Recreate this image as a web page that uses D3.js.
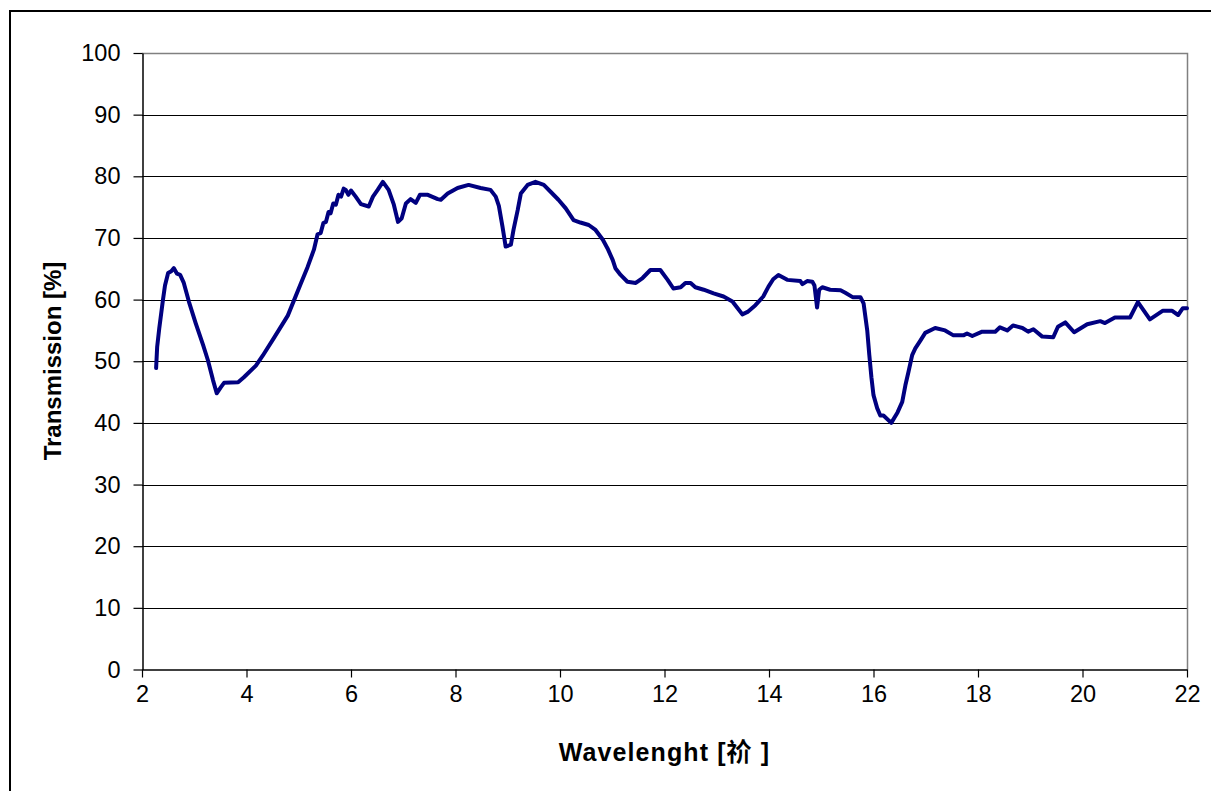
<!DOCTYPE html>
<html>
<head>
<meta charset="utf-8">
<script src="https://cdn.jsdelivr.net/npm/d3@7"></script>
<style>
  html, body { margin: 0; padding: 0; background: #fff; }
  svg { display: block; }
</style>
</head>
<body>
<svg id="chart" width="1211" height="791"></svg>
<script>
// ---- data ----
const wavelength = [
  2.27, 2.29, 2.33, 2.40, 2.44, 2.50, 2.56, 2.61, 2.67, 2.73, 2.80, 2.90, 3.03, 3.17, 3.26, 3.36, 3.43,
  3.51, 3.57, 3.84, 3.95, 4.18, 4.31, 4.52, 4.79, 5.04, 5.17, 5.29, 5.36, 5.42, 5.47, 5.52, 5.57, 5.61,
  5.66, 5.71, 5.76, 5.81, 5.86, 5.90, 5.95, 6.00, 6.09, 6.19, 6.34, 6.42, 6.51, 6.61, 6.72, 6.82,
  6.90, 6.97, 7.05, 7.14, 7.24, 7.32, 7.47, 7.66, 7.72, 7.85, 8.04, 8.25, 8.48, 8.67, 8.77, 8.83,
  8.90, 8.96, 9.06, 9.11, 9.19, 9.25, 9.38, 9.53, 9.69, 9.82, 9.97, 10.11, 10.26, 10.39, 10.55,
  10.68, 10.82, 10.91, 11.01, 11.06, 11.16, 11.29, 11.45, 11.58, 11.73, 11.92, 12.06, 12.17, 12.31,
  12.40, 12.50, 12.59, 12.75, 12.94, 13.13, 13.30, 13.40, 13.49, 13.59, 13.74, 13.89, 13.99, 14.08,
  14.18, 14.35, 14.60, 14.64, 14.73, 14.83, 14.87, 14.92, 14.96, 15.02, 15.17, 15.37, 15.46, 15.60,
  15.75, 15.81, 15.88, 15.92, 15.96, 16.00, 16.07, 16.13, 16.19, 16.34, 16.46, 16.55, 16.61, 16.67,
  16.74, 16.80, 16.90, 16.99, 17.18, 17.37, 17.53, 17.72, 17.79, 17.89, 18.08, 18.33, 18.42, 18.56,
  18.67, 18.85, 18.96, 19.06, 19.23, 19.44, 19.53, 19.67, 19.84, 20.09, 20.34, 20.43, 20.62, 20.91,
  21.06, 21.29, 21.54, 21.71, 21.83, 21.92, 22.00
];
const transmission = [
  48.9, 52.3, 55.3, 59.9, 62.3, 64.3, 64.6, 65.1, 64.2, 64.0, 62.7, 59.6, 56.1, 52.6, 50.2, 46.9, 44.8,
  45.8, 46.5, 46.6, 47.4, 49.3, 50.9, 53.7, 57.4, 62.6, 65.3, 68.1, 70.6, 70.8, 72.4, 72.6, 74.2, 74.0,
  75.6, 75.4, 77.0, 76.7, 78.0, 77.8, 77.0, 77.7, 76.7, 75.5, 75.1, 76.7, 77.8, 79.1, 77.8, 75.4,
  72.6, 73.2, 75.6, 76.3, 75.7, 77.0, 77.0, 76.3, 76.2, 77.2, 78.1, 78.6, 78.1, 77.8, 76.7, 75.2,
  71.8, 68.6, 68.9, 71.3, 74.5, 77.2, 78.6, 79.1, 78.6, 77.5, 76.2, 74.8, 72.9, 72.5, 72.1,
  71.3, 69.7, 68.3, 66.4, 65.1, 64.0, 62.9, 62.7, 63.5, 64.8, 64.8, 63.2, 61.8, 62.0,
  62.7, 62.7, 62.0, 61.6, 61.0, 60.5, 59.7, 58.6, 57.6, 58.0, 59.1, 60.5, 62.1, 63.3,
  64.0, 63.2, 63.0, 62.5, 63.0, 62.9, 62.3, 58.7, 61.6, 62.0, 61.6, 61.5, 61.1, 60.4,
  60.4, 59.4, 55.0, 51.0, 47.4, 44.5, 42.4, 41.2, 41.2, 40.0, 41.7, 43.4, 46.1, 48.3,
  51.0, 52.1, 53.4, 54.6, 55.4, 55.0, 54.2, 54.2, 54.5, 54.1, 54.8, 54.8, 55.5, 55.0,
  55.8, 55.4, 54.8, 55.2, 54.0, 53.9, 55.6, 56.3, 54.7, 56.0, 56.5, 56.2, 57.1, 57.1,
  59.6, 56.8, 58.2, 58.2, 57.5, 58.6, 58.6
];
const xTicks = [2, 4, 6, 8, 10, 12, 14, 16, 18, 20, 22];
const yTicks = [0, 10, 20, 30, 40, 50, 60, 70, 80, 90, 100];
const xTitle = "Wavelenght [祄 ]";
const yTitle = "Transmission [%]";

// ---- layout ----
const svg = d3.select("#chart");
const plotLeft = 142, plotRight = 1187, plotTop = 53, plotBottom = 669.5;
const x = d3.scaleLinear().domain([2, 22]).range([plotLeft, plotRight]);
const y = d3.scaleLinear().domain([0, 100]).range([plotBottom, plotTop]);
const font = "Arial, 'Liberation Sans', sans-serif";

// outer chart border
svg.append("rect")
  .attr("x", 10).attr("y", 11).attr("width", 1210).attr("height", 790)
  .attr("fill", "#fff").attr("stroke", "#000").attr("stroke-width", 2);

// horizontal gridlines
svg.append("g").selectAll("line")
  .data(yTicks.filter(d => d > 0 && d < 100))
  .join("line")
  .attr("x1", plotLeft).attr("x2", plotRight)
  .attr("y1", d => Math.round(y(d)) + 0.5).attr("y2", d => Math.round(y(d)) + 0.5)
  .attr("stroke", "#000").attr("stroke-width", 1);

// plot area top and right border (gray)
svg.append("path")
  .attr("d", `M${plotLeft},${Math.round(y(100)) + 0.5}H${plotRight + 0.5}V${plotBottom}`)
  .attr("fill", "none").attr("stroke", "#808080").attr("stroke-width", 1.5);

// y axis
const yAxis = d3.axisLeft(y).tickValues(yTicks).tickSize(9).tickPadding(13).tickSizeOuter(0);
const gy = svg.append("g").attr("transform", `translate(${plotLeft + 0.5},0)`).call(yAxis);
gy.select(".domain").attr("stroke", "#000").attr("stroke-width", 1.5);
gy.selectAll(".tick line").attr("stroke", "#000").attr("stroke-width", 1.2);
gy.selectAll(".tick text").attr("font-family", font).attr("font-size", 23.5).attr("fill", "#000");

// x axis
const xAxis = d3.axisBottom(x).tickValues(xTicks).tickSize(8).tickPadding(8).tickSizeOuter(0);
const gx = svg.append("g").attr("transform", `translate(0,${plotBottom})`).call(xAxis);
gx.select(".domain").attr("stroke", "#000").attr("stroke-width", 1.5);
gx.selectAll(".tick line").attr("stroke", "#000").attr("stroke-width", 1.2);
gx.selectAll(".tick text").attr("font-family", font).attr("font-size", 23.5).attr("fill", "#000");

// data line
const pts = wavelength.map((w, i) => [w, transmission[i]]);
svg.append("path")
  .datum(pts)
  .attr("fill", "none")
  .attr("stroke", "#000080")
  .attr("stroke-width", 4)
  .attr("stroke-linejoin", "round")
  .attr("stroke-linecap", "round")
  .attr("d", d3.line().x(d => x(d[0])).y(d => y(d[1])));

// axis titles
svg.append("text")
  .attr("x", (plotLeft + plotRight) / 2).attr("y", 761)
  .attr("text-anchor", "middle")
  .attr("font-family", font + ", 'Noto Sans CJK SC'")
  .attr("font-size", 25).attr("font-weight", "bold")
  .attr("letter-spacing", 1.1)
  .attr("xml:space", "preserve")
  .text(xTitle);

svg.append("text")
  .attr("transform", "translate(61,361) rotate(-90)")
  .attr("text-anchor", "middle")
  .attr("font-family", font)
  .attr("font-size", 24).attr("font-weight", "bold")
  .text(yTitle);
</script>
</body>
</html>
